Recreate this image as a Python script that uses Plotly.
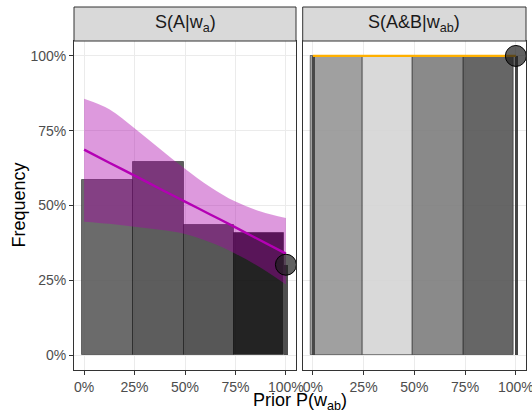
import plotly.graph_objects as go

# ---------------- data ----------------
tick_vals = [0, 0.25, 0.5, 0.75, 1.0]
tick_text = ["0%", "25%", "50%", "75%", "100%"]

panel_titles = ["S(A|w<sub>a</sub>)", "S(A&B|w<sub>ab</sub>)"]
x_title = "Prior P(w<sub>ab</sub>)"
y_title = "Frequency"

# histogram bins (prior)
bin_left = [-0.009, 0.244, 0.493, 0.743]
bin_right = [0.244, 0.493, 0.743, 0.991]
freq_a = [0.585, 0.644, 0.435, 0.408]
freq_ab = [1.0, 1.0, 1.0, 1.0]

# thin end bars at prior = 0 and 1
end_x_a = [1.0]
end_freq_a = [0.302]
end_x_ab = [0.0, 1.0]
end_freq_ab = [1.0, 1.0]
end_width = 0.016

# fitted curve and interval for S(A|w_a)
fit_x = [0.0, 0.125, 0.25, 0.375, 0.5, 0.625, 0.75, 0.875, 1.0]
fit_a = [0.687, 0.643, 0.600, 0.556, 0.513, 0.470, 0.427, 0.383, 0.339]
fit_a_hi = [0.857, 0.822, 0.758, 0.690, 0.623, 0.562, 0.513, 0.480, 0.458]
fit_a_lo = [0.446, 0.439, 0.429, 0.419, 0.405, 0.377, 0.339, 0.292, 0.236]

# fitted line for S(A&B|w_ab)
fit_ab_x = [0.0, 1.0]
fit_ab = [1.0, 1.0]

# observed points
obs_x = [1.0]
obs_a = [0.302]
obs_ab = [1.0]

# ---------------- styles ----------------
bar_colors_a = ["rgba(87,87,87,0.88)", "rgba(71,71,71,0.88)",
                "rgba(64,64,64,0.88)", "rgba(4,4,4,0.88)"]
bar_colors_ab = ["rgba(147,147,147,0.88)", "rgba(212,212,212,0.88)",
                 "rgba(122,122,122,0.88)", "rgba(81,81,81,0.88)"]
end_colors_a = ["rgba(60,60,60,0.9)"]
end_colors_ab = ["rgba(62,62,62,0.9)", "rgba(50,50,50,0.9)"]
bar_line = dict(width=1, color="rgba(0,0,0,0.45)")
FONT = "Liberation Sans, Arial, Helvetica, sans-serif"

fig = go.Figure()

centers_a = [(l + r) / 2 for l, r in zip(bin_left, bin_right)]
widths = [r - l for l, r in zip(bin_left, bin_right)]

# left panel
fig.add_trace(go.Bar(x=centers_a, y=freq_a, width=widths,
                     marker=dict(color=bar_colors_a, line=bar_line),
                     xaxis="x", yaxis="y"))
fig.add_trace(go.Bar(x=end_x_a, y=end_freq_a, width=[end_width] * len(end_x_a),
                     marker=dict(color=end_colors_a, line=dict(width=0)),
                     xaxis="x", yaxis="y"))
fig.add_trace(go.Scatter(x=fit_x, y=fit_a_lo, mode="lines",
                         line=dict(width=0, shape="spline", smoothing=1),
                         xaxis="x", yaxis="y"))
fig.add_trace(go.Scatter(x=fit_x, y=fit_a_hi, mode="lines", fill="tonexty",
                         fillcolor="rgba(170,0,170,0.40)",
                         line=dict(width=0, shape="spline", smoothing=1),
                         xaxis="x", yaxis="y"))
fig.add_trace(go.Scatter(x=fit_x, y=fit_a, mode="lines",
                         line=dict(color="#B400B4", width=2.4, shape="spline"),
                         xaxis="x", yaxis="y"))
fig.add_trace(go.Scatter(x=obs_x, y=obs_a, mode="markers", cliponaxis=False,
                         marker=dict(size=21, color="rgba(30,30,30,0.7)",
                                     line=dict(color="black", width=1)),
                         xaxis="x", yaxis="y"))

# right panel
fig.add_trace(go.Bar(x=centers_a, y=freq_ab, width=widths,
                     marker=dict(color=bar_colors_ab, line=bar_line),
                     xaxis="x2", yaxis="y2"))
fig.add_trace(go.Bar(x=end_x_ab, y=end_freq_ab, width=[end_width] * len(end_x_ab),
                     marker=dict(color=end_colors_ab, line=dict(width=0)),
                     xaxis="x2", yaxis="y2"))
fig.add_trace(go.Scatter(x=fit_ab_x, y=fit_ab, mode="lines",
                         line=dict(color="#FFB000", width=2.2),
                         xaxis="x2", yaxis="y2"))
fig.add_trace(go.Scatter(x=obs_x, y=obs_ab, mode="markers", cliponaxis=False,
                         marker=dict(size=21, color="rgba(30,30,30,0.7)",
                                     line=dict(color="black", width=1)),
                         xaxis="x2", yaxis="y2"))

W, H = 532, 416
ML, MR, MT, MB = 74, 6, 41, 46
PW, PH = W - ML - MR, H - MT - MB

axis_common = dict(range=[-0.05, 1.05], tickvals=tick_vals, ticktext=tick_text,
                   showgrid=True, gridcolor="#ebebeb", gridwidth=1.1,
                   zeroline=False, showline=True, mirror=True,
                   linecolor="#333333", linewidth=1, automargin=False,
                   ticklabeloverflow="allow",
                   ticks="outside", ticklen=4, tickcolor="#333333", tickwidth=1,
                   tickfont=dict(family=FONT, size=14, color="#4d4d4d"))

fig.update_layout(
    width=W, height=H,
    margin=dict(l=ML, r=MR, t=MT, b=MB, pad=0, autoexpand=False),
    paper_bgcolor="white", plot_bgcolor="white",
    showlegend=False, barmode="overlay", bargap=0, hovermode=False,
    xaxis=dict(domain=[0, 222 / PW], anchor="y", **axis_common),
    xaxis2=dict(domain=[228.7 / PW, 1], anchor="y2", **axis_common),
    yaxis=dict(domain=[0, 1], anchor="x", **axis_common),
    yaxis2=dict(domain=[0, 1], anchor="x2", matches="y",
                **{**axis_common, "showticklabels": False, "ticks": ""}),
)

strip_h = 34 / PH
shapes = []
annotations = []
for xa, ya, title in [("x", "y", panel_titles[0]), ("x2", "y2", panel_titles[1])]:
    shapes.append(dict(type="rect", xref=f"{xa} domain", yref=f"{ya} domain",
                       x0=0, x1=1, y0=1, y1=1 + strip_h,
                       fillcolor="#d9d9d9", line=dict(color="#333333", width=1),
                       layer="above"))
    annotations.append(dict(xref=f"{xa} domain", yref=f"{ya} domain",
                            x=0.5, y=1 + strip_h / 2, text=title, showarrow=False,
                            xanchor="center", yanchor="middle",
                            font=dict(family=FONT, size=18, color="#1a1a1a")))

annotations.append(dict(xref="paper", yref="paper", x=0.5, y=-31.5 / PH,
                        text=x_title, showarrow=False, xanchor="center",
                        yanchor="middle", font=dict(family=FONT, size=18, color="black")))
annotations.append(dict(xref="paper", yref="paper", x=-56 / PW, y=0.5,
                        text=y_title, showarrow=False, textangle=-90,
                        xanchor="center", yanchor="middle",
                        font=dict(family=FONT, size=18, color="black")))

fig.update_layout(shapes=shapes, annotations=annotations)
fig.write_html("out.html", config={"displayModeBar": False},
               post_script="document.body.style.margin='0';"
                           "document.body.style.overflow='hidden';")
